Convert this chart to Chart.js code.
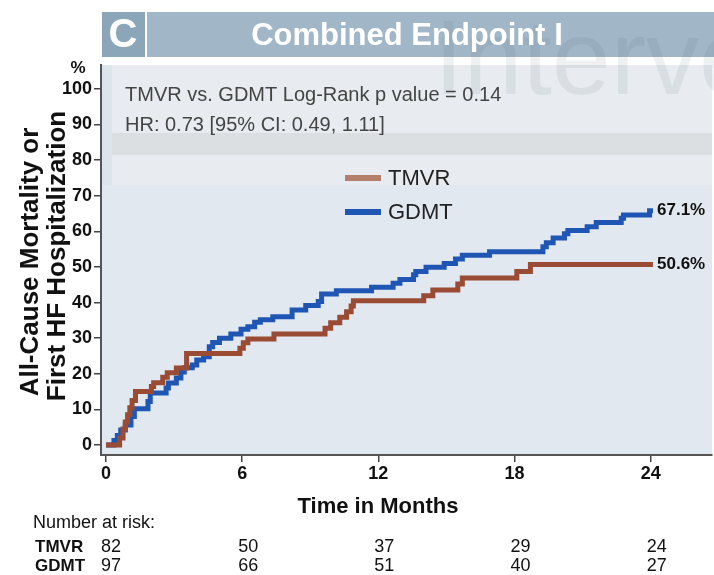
<!DOCTYPE html>
<html>
<head>
<meta charset="utf-8">
<script src="https://cdn.jsdelivr.net/npm/chart.js@4.4.1/dist/chart.umd.min.js"></script>
<style>
    html, body { margin: 0; padding: 0; background: #ffffff; }
    #wrap { width: 714px; height: 575px; }
</style>
</head>
<body>
<div id="wrap"><canvas id="kmChart" width="714" height="575"></canvas></div>
<script>
// tick labels
const xTicks = [0, 6, 12, 18, 24];
const yTicks = [0, 10, 20, 30, 40, 50, 60, 70, 80, 90, 100];

// Kaplan-Meier steps (months, cumulative %)
const tmvrTime = [0, 0.5, 0.6, 0.75, 0.85, 0.95, 1.05, 1.15, 1.3, 2.0, 2.1, 2.5, 2.7, 3.1, 3.55,
    5.9, 6.05, 6.25, 7.4, 9.65, 9.9, 10.3, 10.6, 10.8, 10.9, 14.0, 14.4, 15.5, 15.7, 18.1, 18.7, 24.1];
const tmvrPct = [0, 0, 2, 4.5, 6.5, 8.5, 10.5, 12.5, 15, 16.4, 17.5, 19, 20.3, 21.6, 25.7,
    27.2, 28.7, 29.8, 31.2, 32.8, 34.3, 35.9, 37.4, 39, 40.5, 41.9, 43.5, 45.2, 46.9, 48.7, 50.7, 50.7];

const gdmtTime = [0, 0.3, 0.35, 0.5, 0.65, 0.85, 1.1, 1.25, 1.85, 1.95, 2.65, 2.75, 3.1, 3.3, 3.45,
    3.8, 4.0, 4.3, 4.55, 4.7, 5.0, 5.5, 5.95, 6.25, 6.55, 6.8, 7.35, 8.2, 8.8, 9.35, 9.5, 10.15,
    11.7, 12.65, 12.95, 13.55, 13.65, 14.1, 14.9, 15.4, 15.7, 16.9, 19.25, 19.4, 19.7, 20.2, 20.35,
    21.2, 21.6, 22.7, 22.8, 23.95, 24.1];
const gdmtPct = [0, 0, 1.3, 2.7, 4.2, 5.6, 8, 10.2, 12.2, 14.6, 16, 17.4, 18.8, 20.5, 21.7,
    22.5, 23.9, 24.8, 27.6, 28.8, 30, 31.2, 32.5, 33.2, 34.5, 35.2, 36, 37.9, 39.2, 40.3, 42.4, 43.3,
    44.3, 45.4, 46.5, 47.8, 48.7, 49.9, 51, 52.2, 53.3, 54.3, 55.7, 56.8, 58.1, 59.3, 60.2,
    61.3, 62.5, 63.7, 64.6, 65.8, 65.8];

const endLabels = ["50.6%", "67.1%"];

// number at risk
const riskTimes = [0, 6, 12, 18, 24];
const tmvrRisk = [82, 50, 37, 29, 24];
const gdmtRisk = [97, 66, 51, 40, 27];

const tmvrColor = "#9a4b34";
const gdmtColor = "#1f56b4";

const toPoints = (ts, vs) => ts.map((t, i) => ({ x: t, y: vs[i] }));

const boldFont = (size) => "bold " + size + "px Arial, 'Liberation Sans', sans-serif";
const plainFont = (size) => size + "px Arial, 'Liberation Sans', sans-serif";

const decorPlugin = {
    id: "decor",
    beforeDraw(chart) {
        const c = chart.ctx;
        const a = chart.chartArea;
        c.save();
        c.fillStyle = "#ffffff";
        c.fillRect(0, 0, chart.width, chart.height);

        // header bar
        c.fillStyle = "#a1b6c6";
        c.fillRect(102, 12, 612, 45);
        c.fillStyle = "#8ba6b9";
        c.fillRect(102, 12, 43, 45);
        c.fillStyle = "#ffffff";
        c.fillRect(145, 12, 2, 45);

        // plot background with the light bands
        c.fillStyle = "#e1e8ef";
        c.fillRect(a.left, a.top, a.right - a.left, a.bottom - a.top);
        c.fillStyle = "#e8ecf0";
        c.fillRect(a.left, a.top, a.right - a.left, 185 - a.top);
        c.fillStyle = "#dcdfe2";
        c.fillRect(112, 133, a.right - 112, 22);
        c.fillStyle = "#dde5ec";
        c.fillRect(a.left, a.top, 11, 120);

        // watermark
        c.fillStyle = "rgba(70, 85, 100, 0.09)";
        c.font = "106px 'Liberation Sans', Arial, sans-serif";
        c.textBaseline = "alphabetic";
        c.textAlign = "left";
        c.fillText("Interve", 434, 94);

        // header text
        c.fillStyle = "#ffffff";
        c.textBaseline = "middle";
        c.textAlign = "center";
        c.font = boldFont(40);
        c.fillText("C", 123, 36);
        c.font = boldFont(31);
        c.fillText("Combined Endpoint I", 407, 36);
        c.restore();
    },
    afterDraw(chart) {
        const c = chart.ctx;
        const xs = chart.scales.x;
        const ys = chart.scales.y;
        c.save();
        c.textBaseline = "middle";

        // log-rank and HR text
        c.fillStyle = "#444444";
        c.textAlign = "left";
        c.font = plainFont(20);
        c.fillText("TMVR vs. GDMT Log-Rank p value = 0.14", 125, 95);
        c.fillText("HR: 0.73 [95% CI: 0.49, 1.11]", 125, 125);

        // legend
        c.lineWidth = 6;
        c.strokeStyle = "#b5806b";
        c.beginPath(); c.moveTo(345, 178); c.lineTo(381, 178); c.stroke();
        c.strokeStyle = gdmtColor;
        c.beginPath(); c.moveTo(345, 212); c.lineTo(381, 212); c.stroke();
        c.fillStyle = "#222222";
        c.font = plainFont(22);
        c.fillText("TMVR", 388, 179);
        c.fillText("GDMT", 388, 213);

        // end labels
        c.fillStyle = "#111111";
        c.font = boldFont(17);
        c.fillText(endLabels[0], 657, ys.getPixelForValue(tmvrPct[tmvrPct.length - 1]));
        c.fillText(endLabels[1], 657, ys.getPixelForValue(gdmtPct[gdmtPct.length - 1]));

        // % above y axis
        c.textAlign = "center";
        c.fillText("%", 78, 68);

        // y title
        c.font = boldFont(26);
        c.save();
        c.translate(31, 262);
        c.rotate(-Math.PI / 2);
        c.fillText("All-Cause Mortality or", 0, 0);
        c.restore();
        c.save();
        c.translate(58, 256);
        c.rotate(-Math.PI / 2);
        c.fillText("First HF Hospitalization", 0, 0);
        c.restore();

        // x title
        c.font = boldFont(22);
        c.fillText("Time in Months", 378, 507);

        // number at risk table
        c.textAlign = "left";
        c.font = plainFont(18);
        c.fillText("Number at risk:", 33, 523);
        c.font = boldFont(17);
        c.fillText("TMVR", 35, 547);
        c.fillText("GDMT", 35, 566);
        c.font = plainFont(18);
        riskTimes.forEach((t, i) => {
            const px = i === 0 ? 111 : xs.getPixelForValue(t) + 6;
            c.textAlign = "center";
            c.fillText(String(tmvrRisk[i]), px, 547);
            c.fillText(String(gdmtRisk[i]), px, 566);
        });
        c.restore();
    }
};

const ctx = document.getElementById("kmChart").getContext("2d");

new Chart(ctx, {
    type: "line",
    data: {
        datasets: [
            {
                label: "TMVR",
                data: toPoints(tmvrTime, tmvrPct),
                borderColor: tmvrColor,
                borderWidth: 5,
                stepped: true,
                pointRadius: 0,
                fill: false
            },
            {
                label: "GDMT",
                data: toPoints(gdmtTime, gdmtPct),
                borderColor: gdmtColor,
                borderWidth: 5,
                stepped: true,
                pointRadius: 0,
                fill: false
            }
        ]
    },
    options: {
        responsive: false,
        animation: false,
        layout: { padding: { top: 65, right: 2, left: 0, bottom: 0 } },
        plugins: {
            legend: { display: false },
            tooltip: { enabled: false }
        },
        scales: {
            x: {
                type: "linear",
                min: -0.22,
                max: 26.7,
                afterBuildTicks: (axis) => { axis.ticks = xTicks.map(v => ({ value: v })); },
                afterFit: (axis) => { axis.height = 120; },
                grid: { drawOnChartArea: false, drawTicks: true, tickLength: 7, color: "#444444", lineWidth: 1.5 },
                border: { display: true, color: "#555555", width: 2 },
                ticks: { color: "#111111", padding: 1, font: { size: 18, weight: "bold" }, maxRotation: 0 }
            },
            y: {
                min: -2.8,
                max: 106.7,
                afterBuildTicks: (axis) => { axis.ticks = yTicks.map(v => ({ value: v })); },
                afterFit: (axis) => { axis.width = 101; },
                grid: { drawOnChartArea: false, drawTicks: true, tickLength: 7, color: "#444444", lineWidth: 1.5 },
                border: { display: true, color: "#555555", width: 2 },
                ticks: { color: "#111111", padding: 2, font: { size: 18, weight: "bold" } }
            }
        }
    },
    plugins: [decorPlugin]
});
</script>
</body>
</html>
